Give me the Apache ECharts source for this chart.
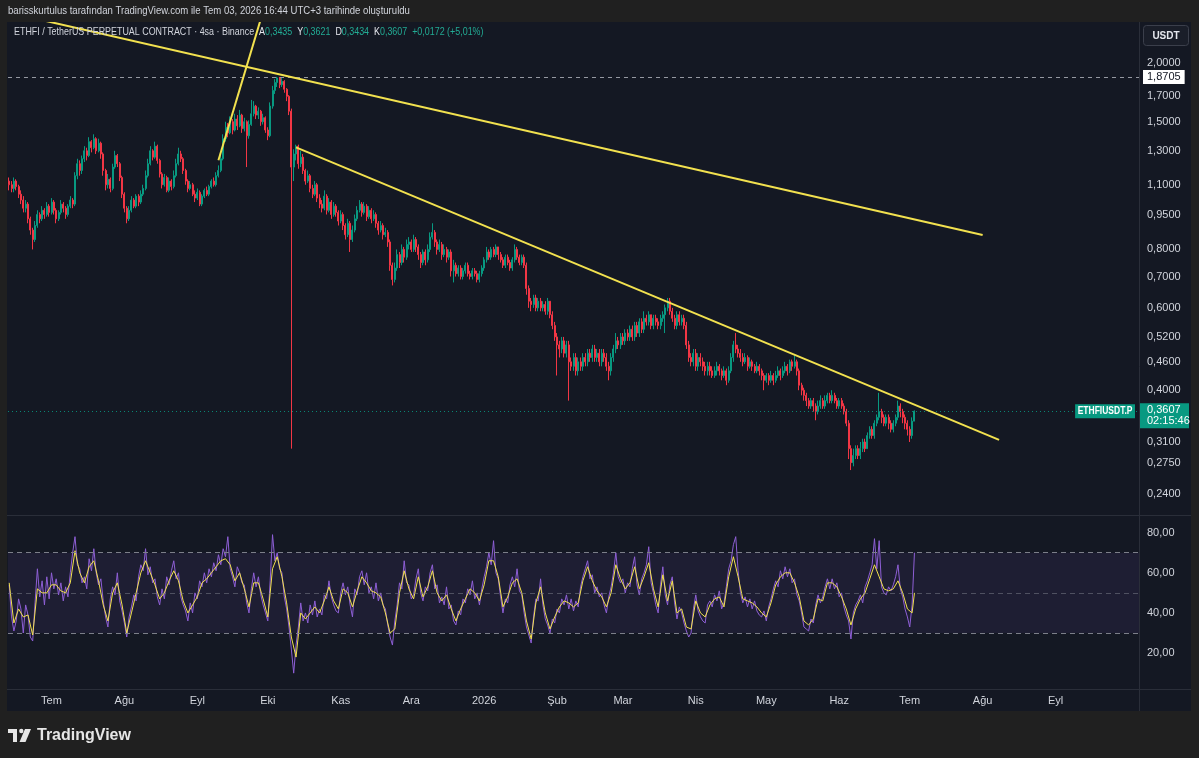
<!DOCTYPE html>
<html><head><meta charset="utf-8">
<script src="https://cdn.jsdelivr.net/npm/echarts@6/dist/echarts.min.js"></script>
<style>html,body{margin:0;padding:0;background:#202020;}#c{width:1199px;height:758px;}</style>
</head><body><div id="c"></div>
<script>
// ---------- DATA ----------
const startDate = '2025-06-13';           // first daily candle
const axisDays = 481;                      // visible time range (incl. future space)
const monthNames = ['Oca','Şub','Mar','Nis','May','Haz','Tem','Ağu','Eyl','Eki','Kas','Ara'];
const firstOpen = 1.12;
const closes = [
1.10,1.08,1.12,1.09,1.05,1.02,0.98,1.00,0.93,0.88,
0.84,0.90,0.95,0.93,0.97,0.95,0.99,0.96,1.01,0.97,
0.93,0.96,1.00,0.98,0.95,0.99,1.02,1.00,1.15,1.22,
1.18,1.25,1.30,1.27,1.36,1.32,1.38,1.30,1.35,1.28,
1.18,1.10,1.13,1.08,1.20,1.27,1.22,1.14,1.05,0.98,
0.93,0.97,1.02,0.99,1.04,1.01,1.05,1.08,1.15,1.22,
1.30,1.26,1.33,1.24,1.16,1.10,1.14,1.07,1.12,1.09,
1.15,1.22,1.28,1.25,1.18,1.12,1.08,1.10,1.05,1.03,
1.06,1.00,1.04,1.07,1.05,1.09,1.12,1.10,1.15,1.18,
1.25,1.38,1.46,1.42,1.50,1.44,1.52,1.47,1.55,1.45,
1.50,1.40,1.48,1.56,1.62,1.55,1.58,1.50,1.53,1.44,
1.40,1.62,1.75,1.82,1.86,1.80,1.83,1.76,1.70,1.58,
1.20,1.28,1.33,1.22,1.26,1.18,1.12,1.15,1.08,1.05,
1.10,1.03,1.00,0.98,1.04,0.97,1.01,0.95,0.99,0.96,
0.92,0.95,0.90,0.86,0.91,0.84,0.88,0.93,0.97,1.00,
0.96,0.99,0.94,0.97,0.93,0.95,0.91,0.88,0.90,0.86,
0.87,0.83,0.74,0.69,0.73,0.78,0.75,0.80,0.77,0.82,
0.83,0.80,0.84,0.81,0.78,0.75,0.79,0.76,0.80,0.85,
0.87,0.83,0.80,0.82,0.78,0.80,0.77,0.79,0.72,0.74,
0.71,0.73,0.70,0.72,0.74,0.71,0.70,0.72,0.71,0.69,
0.71,0.73,0.76,0.79,0.77,0.80,0.78,0.81,0.78,0.76,
0.74,0.77,0.75,0.73,0.76,0.80,0.77,0.75,0.77,0.74,
0.66,0.62,0.61,0.63,0.60,0.62,0.60,0.61,0.59,0.62,
0.58,0.55,0.52,0.50,0.49,0.51,0.48,0.50,0.46,0.45,
0.47,0.44,0.46,0.45,0.47,0.46,0.48,0.47,0.49,0.47,
0.48,0.46,0.48,0.47,0.45,0.44,0.47,0.49,0.51,0.50,
0.52,0.51,0.53,0.52,0.54,0.52,0.55,0.53,0.56,0.54,
0.57,0.56,0.58,0.55,0.57,0.56,0.55,0.57,0.58,0.60,
0.62,0.59,0.57,0.55,0.58,0.56,0.57,0.55,0.50,0.47,
0.46,0.48,0.45,0.47,0.46,0.45,0.44,0.45,0.44,0.43,
0.44,0.45,0.44,0.43,0.44,0.42,0.44,0.47,0.50,0.49,
0.48,0.47,0.46,0.47,0.45,0.46,0.45,0.44,0.45,0.44,
0.43,0.42,0.43,0.42,0.43,0.42,0.43,0.44,0.43,0.44,
0.45,0.44,0.46,0.45,0.46,0.44,0.41,0.40,0.39,0.38,
0.37,0.38,0.37,0.36,0.37,0.38,0.37,0.38,0.39,0.38,
0.39,0.38,0.37,0.38,0.37,0.36,0.34,0.30,0.28,0.29,
0.30,0.29,0.30,0.31,0.30,0.32,0.33,0.32,0.34,0.35,
0.36,0.35,0.34,0.35,0.34,0.33,0.34,0.35,0.37,0.36,
0.35,0.34,0.33,0.32,0.3435,0.3607];
const highs = [
1.14,1.12,1.14,1.13,1.10,1.07,1.04,1.02,1.01,0.94,
0.89,0.92,0.97,0.96,0.99,0.98,1.01,1.00,1.03,1.02,
0.98,0.97,1.02,1.01,0.99,1.00,1.04,1.03,1.17,1.25,
1.24,1.27,1.33,1.32,1.39,1.37,1.41,1.39,1.38,1.36,
1.29,1.19,1.16,1.14,1.22,1.30,1.28,1.23,1.15,1.06,
0.99,0.99,1.04,1.03,1.05,1.05,1.07,1.10,1.18,1.25,
1.33,1.31,1.36,1.34,1.25,1.17,1.16,1.15,1.14,1.13,
1.18,1.25,1.32,1.30,1.26,1.19,1.13,1.12,1.11,1.07,
1.08,1.07,1.05,1.08,1.09,1.10,1.13,1.14,1.17,1.21,
1.28,1.41,1.50,1.49,1.54,1.52,1.56,1.55,1.59,1.56,
1.53,1.51,1.51,1.67,1.66,1.63,1.61,1.59,1.56,1.54,
1.46,1.65,1.79,1.85,1.8705,1.87,1.86,1.84,1.77,1.71,
1.60,1.31,1.34,1.34,1.30,1.28,1.19,1.18,1.16,1.10,
1.12,1.11,1.05,1.02,1.07,1.05,1.03,1.02,1.01,1.00,
0.97,0.97,0.96,0.91,0.93,0.92,0.90,0.95,0.99,1.02,
1.01,1.01,1.00,0.99,0.98,0.97,0.96,0.92,0.92,0.91,
0.89,0.88,0.84,0.75,0.75,0.80,0.79,0.82,0.81,0.84,
0.85,0.84,0.86,0.85,0.82,0.79,0.80,0.80,0.82,0.87,
0.91,0.88,0.84,0.84,0.83,0.82,0.81,0.80,0.80,0.76,
0.75,0.74,0.74,0.73,0.75,0.75,0.72,0.73,0.73,0.72,
0.72,0.74,0.77,0.81,0.80,0.81,0.81,0.82,0.81,0.79,
0.77,0.78,0.78,0.76,0.77,0.82,0.81,0.78,0.78,0.78,
0.75,0.67,0.63,0.64,0.64,0.63,0.63,0.62,0.62,0.63,
0.62,0.59,0.56,0.53,0.51,0.52,0.52,0.51,0.51,0.47,
0.48,0.48,0.47,0.47,0.48,0.48,0.49,0.49,0.50,0.50,
0.49,0.49,0.49,0.49,0.48,0.46,0.48,0.50,0.53,0.52,
0.53,0.53,0.54,0.54,0.55,0.55,0.56,0.56,0.57,0.57,
0.59,0.58,0.59,0.58,0.58,0.58,0.57,0.58,0.59,0.61,
0.63,0.63,0.60,0.58,0.59,0.59,0.58,0.58,0.56,0.51,
0.48,0.49,0.49,0.48,0.48,0.47,0.46,0.46,0.46,0.45,
0.45,0.46,0.455,0.445,0.45,0.445,0.45,0.48,0.51,0.53,
0.50,0.49,0.48,0.48,0.475,0.47,0.465,0.455,0.46,0.455,
0.445,0.435,0.435,0.435,0.44,0.435,0.44,0.45,0.445,0.45,
0.46,0.455,0.465,0.465,0.475,0.465,0.445,0.415,0.405,0.395,
0.385,0.385,0.385,0.375,0.38,0.39,0.385,0.39,0.395,0.395,
0.40,0.395,0.385,0.385,0.385,0.375,0.365,0.345,0.305,0.30,
0.305,0.305,0.31,0.315,0.315,0.325,0.335,0.335,0.345,0.355,
0.395,0.365,0.355,0.355,0.355,0.345,0.345,0.355,0.38,0.375,
0.365,0.355,0.345,0.335,0.35,0.3621];
const lows = [
1.07,1.06,1.06,1.07,1.03,1.00,0.96,0.96,0.91,0.86,
0.80,0.83,0.89,0.91,0.92,0.93,0.94,0.94,0.95,0.95,
0.91,0.92,0.95,0.96,0.93,0.94,0.98,0.98,0.99,1.13,
1.15,1.16,1.23,1.24,1.26,1.29,1.31,1.28,1.29,1.25,
1.15,1.07,1.08,1.06,1.07,1.19,1.20,1.12,1.03,0.96,
0.91,0.92,0.96,0.98,0.98,0.99,1.00,1.04,1.07,1.14,
1.21,1.24,1.25,1.22,1.14,1.08,1.09,1.06,1.06,1.07,
1.08,1.14,1.21,1.23,1.16,1.10,1.06,1.07,1.04,1.01,
1.02,0.99,0.99,1.03,1.04,1.04,1.08,1.09,1.09,1.14,
1.17,1.24,1.36,1.39,1.41,1.41,1.43,1.44,1.46,1.42,
1.43,1.20,1.38,1.47,1.54,1.52,1.52,1.47,1.48,1.42,
1.37,1.39,1.60,1.72,1.78,1.77,1.78,1.73,1.66,1.55,
0.30,1.12,1.24,1.19,1.20,1.16,1.10,1.11,1.06,1.03,
1.04,1.01,0.98,0.96,0.97,0.95,0.96,0.93,0.94,0.94,
0.90,0.91,0.88,0.84,0.85,0.79,0.83,0.87,0.92,0.96,
0.94,0.95,0.92,0.93,0.91,0.92,0.89,0.86,0.87,0.84,
0.85,0.81,0.72,0.67,0.68,0.72,0.73,0.74,0.75,0.76,
0.80,0.79,0.79,0.79,0.76,0.73,0.74,0.74,0.75,0.79,
0.84,0.81,0.78,0.79,0.76,0.77,0.75,0.76,0.70,0.68,
0.70,0.70,0.69,0.69,0.71,0.70,0.69,0.69,0.70,0.68,
0.68,0.70,0.72,0.75,0.76,0.76,0.77,0.77,0.76,0.75,
0.73,0.73,0.74,0.72,0.72,0.75,0.76,0.74,0.74,0.73,
0.64,0.60,0.59,0.60,0.59,0.59,0.59,0.59,0.58,0.58,
0.57,0.54,0.51,0.43,0.47,0.48,0.47,0.47,0.38,0.44,
0.44,0.43,0.43,0.44,0.44,0.45,0.45,0.46,0.46,0.46,
0.46,0.45,0.45,0.46,0.44,0.42,0.43,0.46,0.48,0.49,
0.49,0.50,0.50,0.51,0.51,0.51,0.51,0.52,0.52,0.53,
0.53,0.55,0.55,0.54,0.54,0.55,0.54,0.54,0.56,0.53,
0.59,0.58,0.56,0.54,0.54,0.55,0.55,0.54,0.49,0.46,
0.45,0.45,0.44,0.44,0.45,0.44,0.43,0.43,0.43,0.425,
0.425,0.43,0.43,0.42,0.425,0.41,0.415,0.435,0.46,0.48,
0.47,0.46,0.45,0.455,0.44,0.445,0.44,0.435,0.435,0.43,
0.42,0.40,0.415,0.41,0.415,0.41,0.415,0.425,0.42,0.425,
0.435,0.43,0.435,0.44,0.445,0.43,0.40,0.39,0.38,0.37,
0.365,0.365,0.36,0.345,0.355,0.365,0.365,0.365,0.375,0.375,
0.375,0.375,0.365,0.365,0.365,0.355,0.335,0.285,0.27,0.275,
0.285,0.285,0.285,0.295,0.295,0.30,0.315,0.315,0.315,0.335,
0.345,0.34,0.335,0.335,0.33,0.325,0.325,0.335,0.345,0.35,
0.34,0.33,0.32,0.31,0.315,0.3434];
const rsi = [
54,38,31,36,47,42,30,44,39,28,
26,45,62,48,56,44,58,47,60,52,
57,49,55,46,53,48,60,70,78,64,
62,55,58,52,67,61,72,60,54,57,
46,38,33,47,53,49,60,46,41,35,
28,38,43,49,46,58,64,61,72,59,
63,55,57,48,44,52,47,58,54,61,
66,57,60,48,44,41,36,45,40,50,
47,56,53,60,55,62,58,65,61,69,
64,72,68,78,62,58,53,63,60,55,
54,45,40,52,60,53,58,49,44,40,
36,56,79,66,70,62,60,48,42,33,
22,10,24,33,45,36,40,35,44,39,
46,38,42,39,49,47,56,48,44,41,
40,50,55,49,53,44,38,52,49,58,
61,54,60,50,53,47,55,46,50,44,
42,34,28,24,36,44,55,52,66,55,
54,47,49,57,62,50,46,53,51,60,
64,52,54,45,48,44,53,42,44,36,
34,41,39,47,45,52,49,56,47,50,
44,52,58,63,70,64,76,60,57,48,
40,47,45,54,58,53,62,51,49,40,
33,29,25,38,47,46,57,44,37,34,
30,37,35,42,40,47,44,49,42,47,
41,46,43,53,58,62,66,57,59,50,
53,48,50,44,40,48,53,60,70,58,
55,57,50,55,53,62,68,54,49,57,
60,64,73,55,50,44,40,54,63,49,
44,54,58,45,37,43,40,35,31,28,
30,42,49,41,38,36,35,44,46,43,
49,46,51,42,45,53,62,66,74,78,
61,50,45,48,43,47,42,46,41,39,
38,41,36,43,47,52,56,53,61,57,
63,58,62,55,57,49,46,40,33,32,
31,37,35,44,49,45,48,53,57,52,
57,52,55,48,50,43,39,36,27,40,
44,46,49,45,53,56,60,64,77,62,
76,53,50,49,53,51,54,58,64,52,
48,42,38,33,44,70];
// RSI moving average, read every 2nd day (last value = last day)
const rsiMa = [
55,35,42,38,39,29,52,50,50,54,
54,51,50,55,71,60,55,63,66,56,
44,36,50,55,44,30,40,50,60,66,
60,54,47,50,56,61,56,46,40,44,
48,55,57,60,63,66,67,64,56,60,
52,43,55,55,47,38,62,68,58,45,
28,18,40,37,40,43,40,46,53,46,
42,52,50,43,51,58,55,51,50,48,
40,30,32,50,61,52,47,58,48,53,
61,50,46,49,42,36,42,47,52,50,
46,54,66,66,58,43,48,55,57,50,
36,27,45,53,40,32,38,43,46,45,
43,45,56,63,56,51,48,43,50,64,
57,52,55,63,52,58,65,52,43,59,
46,56,40,42,33,32,46,40,38,44,
47,48,43,58,68,58,47,46,45,43,
40,38,45,54,58,60,60,55,48,36,
34,37,47,46,55,55,53,48,42,34,
42,47,50,57,64,58,52,51,52,56,
50,42,40,
50];
const priceTicks = [2.0, 1.7, 1.5, 1.3, 1.1, 0.95, 0.80, 0.70, 0.60, 0.52, 0.46, 0.40, 0.31, 0.275, 0.24];
const rsiTicks = [80, 60, 40, 20];
const rsiLevels = [70, 50, 30];
const refLevel = 1.8705;
const lastPrice = 0.3607;
const countdown = '02:15:46';
const trendLineA = [['2025-06-13', 2.567], ['2026-08-01', 0.859]];
const trendLineB = [['2025-10-13', 1.3226], ['2026-08-08', 0.3133]];
const trendLineC = [['2025-09-10', 1.2406], ['2025-09-28', 2.486]];
const headerText = 'barisskurtulus tarafından TradingView.com ile Tem 03, 2026 16:44 UTC+3 tarihinde oluşturuldu';
const symbolText = 'ETHFI / TetherUS PERPETUAL CONTRACT · 4sa · Binance';
const ohlcLegend = [['A','0,3435'],['Y','0,3621'],['D','0,3434'],['K','0,3607']];
const changeText = '+0,0172 (+5,01%)';

// ---------- BUILD ----------
const DAY = 86400000;
const t0 = Date.parse(startDate + 'T00:00:00Z');
const dates = [];
for (let i = 0; i < axisDays; i++) dates.push(new Date(t0 + i * DAY).toISOString().slice(0, 10));
const ohlc = closes.map((c, i) => {
  const o = i === 0 ? firstOpen : closes[i - 1];
  return [o, c, Math.min(lows[i], o, c), Math.max(highs[i], o, c)];
});
const lastIdx = closes.length - 1;
const rsiMaData = rsiMa.map((v, k) => [dates[Math.min(k * 2, lastIdx)], v]);
const fmt4 = v => v.toFixed(4).replace('.', ',');
const fmt2 = v => v.toFixed(2).replace('.', ',');

const FONT = '"Liberation Sans", Arial, sans-serif';
const TXT = '#d1d4dc';
const UP = '#089981', DOWN = '#f23645';
const YEL = '#f2e14f';
const HIDDEN_LINE = {color: 'rgba(0,0,0,0)', width: 0, type: 'solid'};

const chart = echarts.init(document.getElementById('c'), null, {renderer: 'canvas'});
const trend = (id, d) => ({
  id, type: 'line', xAxisIndex: 0, yAxisIndex: 0, data: d, symbol: 'none', clip: true,
  lineStyle: {color: YEL, width: 2}, z: 6, silent: true
});
const legendRich = '{n|' + symbolText + '}  ' +
  ohlcLegend.map(p => '{w|' + p[0] + '}{g|' + p[1] + '}').join('  ') + '  {g|' + changeText + '}';
const tickLabel = (txt, d) => ({show: true, position: 'end', distance: d, formatter: txt, color: TXT, fontSize: 11, fontFamily: FONT});

chart.setOption({
  animation: false,
  backgroundColor: '#141823',
  grid: [
    {left: 8, top: 22, width: 1131, height: 493},
    {left: 8, top: 516, width: 1131, height: 173}
  ],
  xAxis: [
    {type: 'category', gridIndex: 0, data: dates, axisLine: {show: false}, axisTick: {show: false},
     axisLabel: {show: false}, splitLine: {show: false}},
    {type: 'category', gridIndex: 1, data: dates, axisLine: {show: false}, axisTick: {show: false},
     splitLine: {show: false},
     axisLabel: {show: true, color: TXT, fontSize: 11, fontFamily: FONT, margin: 6,
       interval: (idx, val) => val.slice(8) === '01' && val < '2026-10-01',
       formatter: val => { const m = +val.slice(5, 7); return m === 1 ? val.slice(0, 4) : monthNames[m - 1]; }}}
  ],
  yAxis: [
    {type: 'log', gridIndex: 0, min: 0.2164, max: 2.451, show: false},
    {type: 'value', gridIndex: 1, min: 2.1, max: 88.3, show: false}
  ],
  series: [
    {type: 'candlestick', xAxisIndex: 0, yAxisIndex: 0, data: ohlc, barWidth: 1.5, silent: true,
     itemStyle: {color: UP, color0: DOWN, borderColor: UP, borderColor0: DOWN, borderWidth: 1}},
    trend('tA', trendLineA), trend('tB', trendLineB), trend('tC', trendLineC),
    {type: 'line', xAxisIndex: 0, yAxisIndex: 0, data: closes, showSymbol: false, clip: false, silent: true,
     lineStyle: {width: 0, opacity: 0}, z: 1,
     markLine: {silent: true, symbol: ['none', 'none'], animation: false,
       data: priceTicks.map(v => ({yAxis: v, lineStyle: HIDDEN_LINE, label: tickLabel(fmt4(v), 8)}))
        .concat([
          {yAxis: refLevel, lineStyle: {color: '#9598a1', width: 1, type: [4, 4]},
           label: {show: true, position: 'end', distance: 4, formatter: fmt4(refLevel), color: '#131722',
             backgroundColor: '#ffffff', padding: [2, 4, 1, 4], fontSize: 11, fontFamily: FONT}},
          {yAxis: lastPrice, lineStyle: {color: 'rgba(8,153,129,0.85)', width: 1, type: [1, 3]},
           label: {show: false}}
        ])}},
    {type: 'line', xAxisIndex: 1, yAxisIndex: 1, data: rsi, showSymbol: false, clip: false, silent: true,
     lineStyle: {width: 0, opacity: 0}, z: 1,
     markArea: {silent: true, itemStyle: {color: 'rgba(126,87,194,0.10)'}, data: [[{yAxis: 30}, {yAxis: 70}]]},
     markLine: {silent: true, symbol: ['none', 'none'], animation: false,
       data: rsiTicks.map(v => ({yAxis: v, lineStyle: HIDDEN_LINE, label: tickLabel(fmt2(v), 8)}))
        .concat(rsiLevels.map(v => ({yAxis: v, label: {show: false},
          lineStyle: {color: v === 50 ? 'rgba(120,123,134,0.55)' : '#7c7f89', width: 1, type: [5, 4]}})))}},
    {type: 'line', xAxisIndex: 1, yAxisIndex: 1, data: rsi, showSymbol: false, silent: true,
     lineStyle: {color: '#8e5fd6', width: 1}, z: 3},
    {type: 'line', xAxisIndex: 1, yAxisIndex: 1, data: rsiMaData, showSymbol: false, silent: true,
     lineStyle: {color: YEL, width: 1}, z: 4}
  ],
  graphic: {elements: [
    {id: 'bgTop', type: 'rect', shape: {x: 0, y: 0, width: 1199, height: 22}, style: {fill: '#202020'}, z: 50, silent: true},
    {id: 'bgBot', type: 'rect', shape: {x: 0, y: 711, width: 1199, height: 47}, style: {fill: '#202020'}, z: 50, silent: true},
    {id: 'bgL', type: 'rect', shape: {x: 0, y: 0, width: 7, height: 758}, style: {fill: '#202020'}, z: 50, silent: true},
    {id: 'bgR', type: 'rect', shape: {x: 1191, y: 0, width: 8, height: 758}, style: {fill: '#202020'}, z: 50, silent: true},
    {id: 'sepV', type: 'line', shape: {x1: 1139.5, y1: 22, x2: 1139.5, y2: 711}, style: {stroke: '#2a2e39', lineWidth: 1}, z: 40, silent: true},
    {id: 'sepH1', type: 'line', shape: {x1: 7, y1: 515.5, x2: 1191, y2: 515.5}, style: {stroke: '#2a2e39', lineWidth: 1}, z: 40, silent: true},
    {id: 'sepH2', type: 'line', shape: {x1: 7, y1: 689.5, x2: 1191, y2: 689.5}, style: {stroke: '#2a2e39', lineWidth: 1}, z: 40, silent: true},
    {id: 'hdr', type: 'text', x: 8, y: 11, scaleX: 0.87, style: {text: headerText, fill: TXT, font: '11px ' + FONT, verticalAlign: 'middle'}, z: 60, silent: true},
    {id: 'leg', type: 'text', x: 14, y: 32, scaleX: 0.81, z: 60, silent: true,
     style: {text: legendRich, verticalAlign: 'middle', font: '11px ' + FONT,
       rich: {n: {fill: TXT, font: '11px ' + FONT}, w: {fill: '#e6e8ee', font: '11px ' + FONT}, g: {fill: '#22ab94', font: '11px ' + FONT}}}},
    {id: 'usdtBox', type: 'rect', shape: {x: 1143.5, y: 25.5, width: 45, height: 20, r: 3}, style: {fill: '#1a1e29', stroke: '#3b3f4b', lineWidth: 1}, z: 60, silent: true},
    {id: 'usdt', type: 'text', x: 1166, y: 36, style: {text: 'USDT', fill: '#e6e8ee', font: 'bold 10px ' + FONT, align: 'center', verticalAlign: 'middle'}, z: 61, silent: true},
    {id: 'logoA', type: 'rect', shape: {x: 8, y: 729, width: 9, height: 4}, style: {fill: '#e6e6e6'}, z: 60, silent: true},
    {id: 'logoB', type: 'rect', shape: {x: 13, y: 729, width: 4, height: 13}, style: {fill: '#e6e6e6'}, z: 60, silent: true},
    {id: 'logoC', type: 'circle', shape: {cx: 21.3, cy: 731, r: 2.2}, style: {fill: '#e6e6e6'}, z: 60, silent: true},
    {id: 'logoD', type: 'polygon', shape: {points: [[25, 729], [31, 729], [25.5, 742], [19.5, 742]]}, style: {fill: '#e6e6e6'}, z: 60, silent: true},
    {id: 'logoT', type: 'text', x: 37, y: 736, style: {text: 'TradingView', fill: '#e6e6e6', font: 'bold 16px ' + FONT, verticalAlign: 'middle'}, z: 60, silent: true}
  ]}
});

// label boxes positioned through the price scale
const yLast = chart.convertToPixel({yAxisIndex: 0}, lastPrice);
chart.setOption({graphic: {elements: [
  {id: 'symBox', type: 'text', x: 1135, y: yLast, scaleX: 0.85, z: 62, silent: true,
   style: {text: 'ETHFIUSDT.P', fill: '#ffffff', font: 'bold 10px ' + FONT, align: 'right', verticalAlign: 'middle',
     backgroundColor: UP, padding: [2, 3, 2, 3]}},
  {id: 'pxBox', type: 'rect', shape: {x: 1140, y: yLast - 8, width: 49, height: 25}, style: {fill: UP}, z: 62, silent: true},
  {id: 'pxTxt', type: 'text', x: 1147, y: yLast - 1.5, z: 63, silent: true,
   style: {text: fmt4(lastPrice), fill: '#ffffff', font: '11px ' + FONT, verticalAlign: 'middle'}},
  {id: 'cdTxt', type: 'text', x: 1147, y: yLast + 10, z: 63, silent: true,
   style: {text: countdown, fill: '#ffffff', font: '11px ' + FONT, verticalAlign: 'middle'}}
]}});
</script></body></html>
